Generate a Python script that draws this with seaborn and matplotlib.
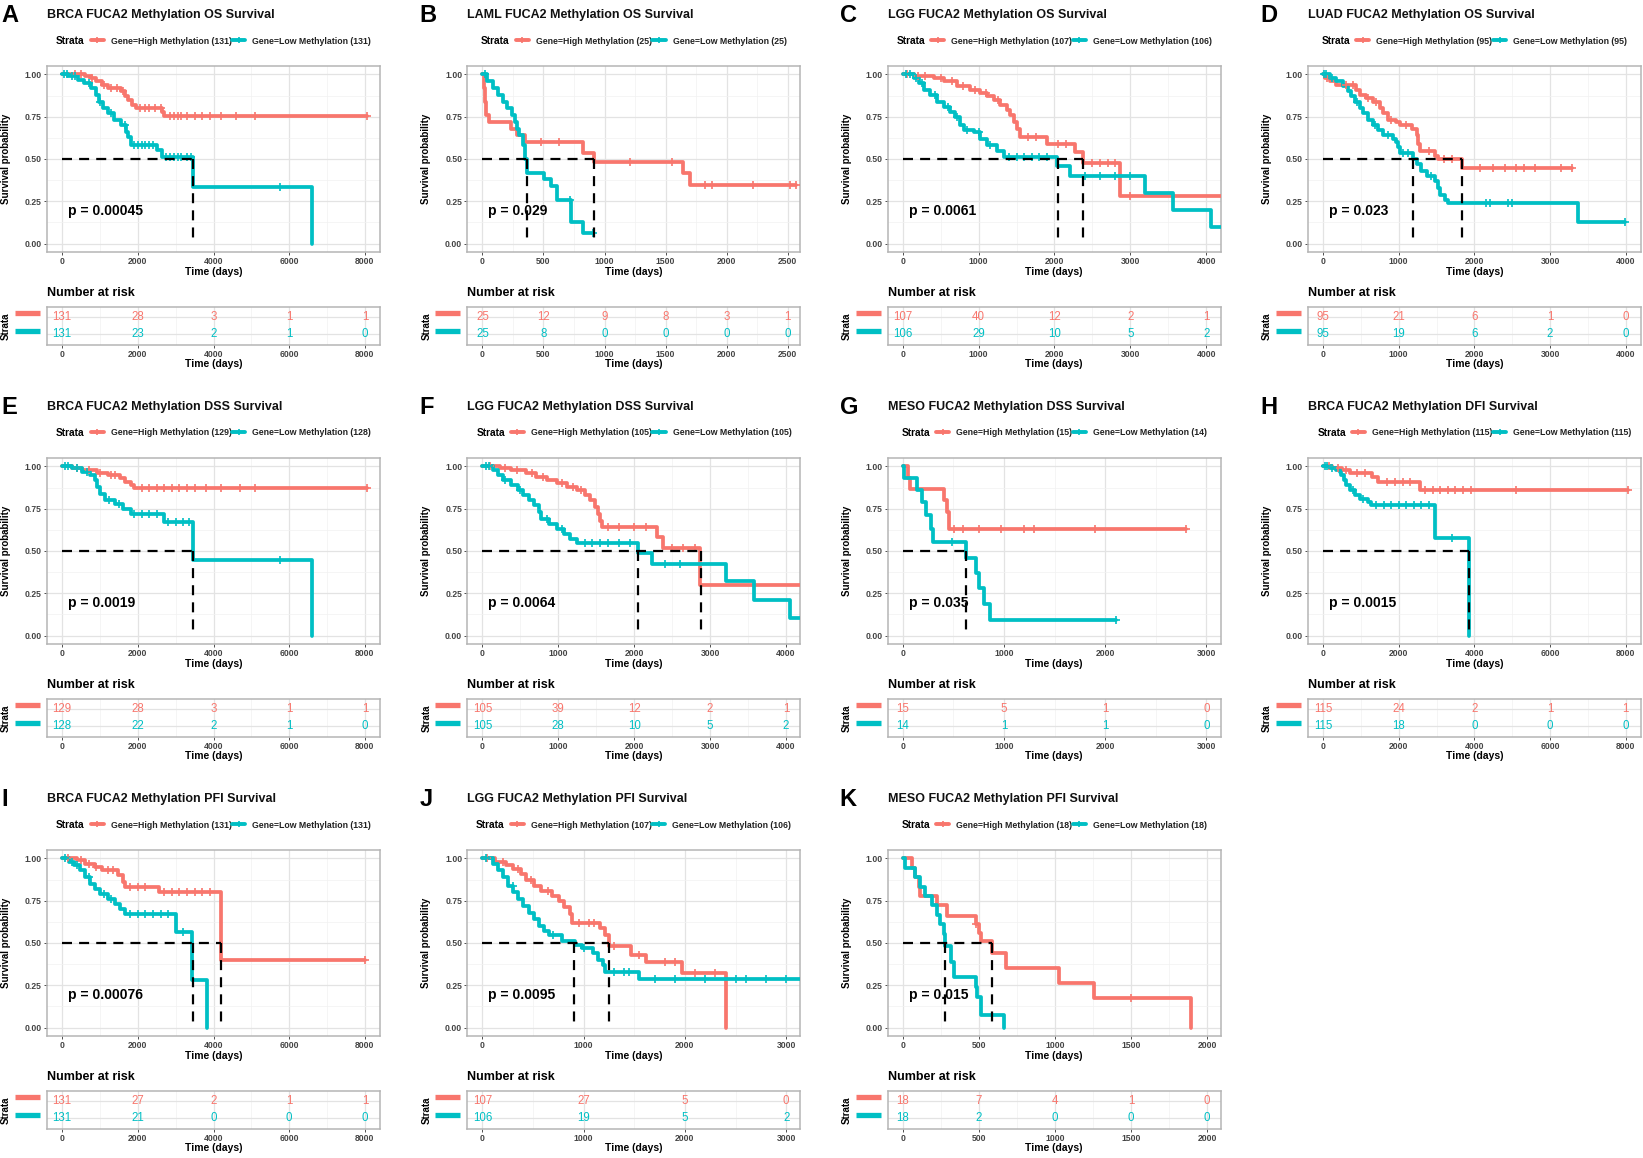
import numpy as np
import pandas as pd
import matplotlib
matplotlib.use("Agg")
import matplotlib.pyplot as plt
import matplotlib.transforms as mtransforms
from matplotlib.lines import Line2D
from matplotlib.ticker import MultipleLocator
import seaborn as sns

sns.set_theme(style="white")
plt.rcParams["font.family"] = ["Liberation Sans", "DejaVu Sans"]

RED = "#F8766D"
CYAN = "#00BFC4"

# ---------------- data ----------------
LETTERS = list("ABCDEFGHIJK")
TITLES = [
    "BRCA FUCA2 Methylation OS Survival",
    "LAML FUCA2 Methylation OS Survival",
    "LGG FUCA2 Methylation OS Survival",
    "LUAD FUCA2 Methylation OS Survival",
    "BRCA FUCA2 Methylation DSS Survival",
    "LGG FUCA2 Methylation DSS Survival",
    "MESO FUCA2 Methylation DSS Survival",
    "BRCA FUCA2 Methylation DFI Survival",
    "BRCA FUCA2 Methylation PFI Survival",
    "LGG FUCA2 Methylation PFI Survival",
    "MESO FUCA2 Methylation PFI Survival",
]
N_HIGH = [131, 25, 107, 95, 129, 105, 15, 115, 131, 107, 18]
N_LOW = [131, 25, 106, 95, 128, 105, 14, 115, 131, 106, 18]
PVALS = ["0.00045", "0.029", "0.0061", "0.023", "0.0019", "0.0064",
         "0.035", "0.0015", "0.00076", "0.0095", "0.015"]
T_RANGE = [8000, 2480, 3990, 4000, 8000, 3990, 2990, 8000, 8000, 2990, 1990]
TICK_STEP = [2000, 500, 1000, 1000, 2000, 1000, 1000, 2000, 2000, 1000, 500]
TICK_MAX = [8000, 2500, 4000, 4000, 8000, 4000, 3000, 8000, 8000, 3000, 2000]
MED_HIGH = [None, 911, 2373, 1830, None, 2885, None, None, 4196, 1254, 584]
MED_LOW = [3464, 361, 2044, 1195, 3466, 2054, 622, 3860, 3453, 900, 277]

RISK_HIGH = [
    [131, 28, 3, 1, 1], [25, 12, 9, 8, 3, 1], [107, 40, 12, 2, 1], [95, 21, 6, 1, 0],
    [129, 28, 3, 1, 1], [105, 39, 12, 2, 1], [15, 5, 1, 0], [115, 24, 2, 1, 1],
    [131, 27, 2, 1, 1], [107, 27, 5, 0], [18, 7, 4, 1, 0],
]
RISK_LOW = [
    [131, 23, 2, 1, 0], [25, 8, 0, 0, 0, 0], [106, 29, 10, 5, 2], [95, 19, 6, 2, 0],
    [128, 22, 2, 1, 0], [105, 28, 10, 5, 2], [14, 1, 1, 0], [115, 18, 0, 0, 0],
    [131, 21, 0, 0, 0], [106, 19, 5, 2], [18, 2, 0, 0, 0],
]

# Kaplan-Meier step curves (time, survival) and censor times
A_HIGH_T = [0, 600, 750, 900, 1050, 1200, 1550, 1650, 1750, 1850, 1950, 2650, 2700, 8050]
A_HIGH_S = [1.0, 0.99, 0.98, 0.96, 0.94, 0.92, 0.90, 0.87, 0.85, 0.82, 0.80, 0.78, 0.755, 0.755]
A_HIGH_C = [350, 500, 800, 1100, 1300, 1450, 1600, 2050, 2200, 2300, 2450, 2600, 2850, 2950,
            3050, 3150, 3300, 3500, 3700, 3900, 4200, 4600, 5100, 8050]
A_LOW_T = [0, 150, 410, 590, 765, 900, 985, 1070, 1200, 1380, 1560, 1690, 1730, 1820, 2520,
           2650, 3460, 6610]
A_LOW_S = [1.0, 0.99, 0.97, 0.95, 0.92, 0.88, 0.84, 0.80, 0.77, 0.73, 0.70, 0.66, 0.63, 0.585,
           0.555, 0.51, 0.335, 0.0]
A_LOW_C = [60, 120, 250, 330, 700, 1000, 1300, 1650, 1900, 2000, 2100, 2200, 2300, 2400, 2750,
           2850, 2950, 3050, 3150, 3300, 3400, 5750]

B_HIGH_T = [0, 12, 20, 28, 50, 230, 285, 350, 820, 917, 1640, 1700, 2570]
B_HIGH_S = [1.0, 0.92, 0.84, 0.76, 0.72, 0.68, 0.64, 0.60, 0.535, 0.48, 0.415, 0.345, 0.345]
B_HIGH_C = [480, 630, 1210, 1550, 1820, 1880, 2220, 2520, 2570]
B_LOW_T = [0, 40, 90, 130, 165, 200, 240, 265, 285, 300, 330, 352, 368, 505, 560, 610, 725,
           820, 905]
B_LOW_S = [1.0, 0.96, 0.92, 0.88, 0.84, 0.80, 0.76, 0.72, 0.68, 0.64, 0.58, 0.50, 0.42, 0.38,
           0.34, 0.26, 0.13, 0.065, 0.065]
B_LOW_C = [25, 720, 905]

C_HIGH_T = [0, 145, 408, 540, 715, 890, 1020, 1110, 1200, 1285, 1370, 1415, 1460, 1504, 1550,
            1900, 2270, 2373, 2864, 4300]
C_HIGH_S = [1.0, 0.99, 0.98, 0.96, 0.93, 0.91, 0.89, 0.87, 0.85, 0.82, 0.79, 0.76, 0.72, 0.68,
            0.63, 0.59, 0.54, 0.475, 0.283, 0.283]
C_HIGH_C = [60, 200, 300, 500, 650, 800, 950, 1100, 1250, 1650, 1750, 2050, 2150, 2500, 2600,
            2700, 2800, 3000]
C_LOW_T = [0, 145, 210, 276, 364, 452, 540, 627, 693, 760, 803, 935, 1022, 1110, 1240, 1330,
           2030, 2206, 3193, 3566, 4069, 4300]
C_LOW_S = [1.0, 0.98, 0.95, 0.91, 0.88, 0.84, 0.81, 0.78, 0.75, 0.70, 0.67, 0.66, 0.62, 0.58,
           0.55, 0.51, 0.46, 0.40, 0.30, 0.20, 0.10, 0.10]
C_LOW_C = [40, 100, 170, 250, 420, 600, 720, 850, 1000, 1150, 1400, 1500, 1600, 1700, 1800,
           1900, 2400, 2600, 2800, 3000]

D_HIGH_T = [0, 22, 88, 176, 441, 485, 573, 662, 750, 794, 860, 970, 1015, 1169, 1235, 1257,
            1279, 1478, 1522, 1830, 3286]
D_HIGH_S = [1.0, 0.98, 0.96, 0.94, 0.91, 0.88, 0.86, 0.84, 0.80, 0.77, 0.73, 0.72, 0.70, 0.68,
            0.64, 0.59, 0.55, 0.52, 0.50, 0.445, 0.445]
D_HIGH_C = [50, 300, 400, 600, 700, 900, 1100, 1400, 1600, 1700, 2080, 2250, 2400, 2550, 2650,
            2800, 3150, 3286]
D_LOW_T = [0, 88, 176, 265, 331, 375, 419, 485, 529, 595, 662, 728, 794, 926, 970, 992, 1015,
           1191, 1235, 1301, 1368, 1478, 1522, 1544, 1610, 1654, 3370, 3987]
D_LOW_S = [1.0, 0.98, 0.96, 0.93, 0.90, 0.87, 0.84, 0.80, 0.77, 0.73, 0.70, 0.67, 0.64, 0.62,
           0.60, 0.57, 0.535, 0.50, 0.47, 0.43, 0.40, 0.37, 0.33, 0.29, 0.26, 0.24, 0.127, 0.127]
D_LOW_C = [10, 40, 120, 450, 680, 860, 1050, 1120, 1420, 2150, 2200, 2450, 2500, 3987]

E_HIGH_T = [0, 256, 525, 930, 1200, 1537, 1672, 1807, 1900, 8050]
E_HIGH_S = [1.0, 0.99, 0.98, 0.96, 0.95, 0.93, 0.91, 0.89, 0.875, 0.875]
E_HIGH_C = [400, 700, 1000, 1300, 1400, 2100, 2300, 2500, 2700, 2900, 3100, 3300, 3500, 3800,
            4200, 4700, 5100, 8050]
E_LOW_T = [0, 256, 525, 728, 863, 930, 1000, 1133, 1403, 1605, 1807, 2684, 3466, 6594]
E_LOW_S = [1.0, 0.99, 0.97, 0.95, 0.92, 0.88, 0.84, 0.80, 0.78, 0.75, 0.72, 0.67, 0.445, 0.0]
E_LOW_C = [80, 150, 400, 650, 1250, 1500, 1900, 2100, 2300, 2500, 2800, 3000, 3200, 3350, 5750]

F_HIGH_T = [0, 236, 372, 574, 709, 845, 980, 1115, 1250, 1351, 1419, 1486, 1520, 1554, 1574,
            2297, 2378, 2872, 4300]
F_HIGH_S = [1.0, 0.99, 0.98, 0.96, 0.94, 0.92, 0.90, 0.88, 0.86, 0.83, 0.80, 0.76, 0.72, 0.68,
            0.64, 0.58, 0.52, 0.30, 0.30]
F_HIGH_C = [100, 300, 450, 650, 800, 1050, 1200, 1300, 1650, 1800, 2000, 2150, 2500, 2650, 2800]
F_LOW_T = [0, 135, 203, 270, 372, 473, 541, 608, 676, 743, 777, 878, 980, 1081, 1149, 1250,
           2047, 2230, 3209, 3581, 4054, 4300]
F_LOW_S = [1.0, 0.98, 0.95, 0.92, 0.89, 0.86, 0.83, 0.80, 0.77, 0.73, 0.69, 0.66, 0.63, 0.60,
           0.57, 0.545, 0.49, 0.425, 0.32, 0.21, 0.105, 0.105]
F_LOW_C = [50, 90, 300, 500, 850, 1050, 1350, 1450, 1550, 1650, 1800, 1950, 2400, 2600]

G_HIGH_T = [0, 50, 75, 410, 440, 455, 2797]
G_HIGH_S = [1.0, 0.933, 0.867, 0.80, 0.73, 0.63, 0.63]
G_HIGH_C = [510, 600, 750, 970, 1200, 1300, 1900, 2797]
G_LOW_T = [0, 15, 142, 192, 233, 278, 303, 622, 723, 749, 799, 860, 2104]
G_LOW_S = [1.0, 0.93, 0.86, 0.79, 0.71, 0.63, 0.555, 0.46, 0.37, 0.28, 0.185, 0.09, 0.09]
G_LOW_C = [490, 2104]

H_HIGH_T = [0, 250, 500, 700, 1300, 1450, 2555, 8062]
H_HIGH_S = [1.0, 0.99, 0.98, 0.96, 0.94, 0.91, 0.86, 0.86]
H_HIGH_C = [150, 400, 600, 900, 1100, 1700, 1900, 2100, 2300, 2700, 2900, 3100, 3300, 3500,
            3700, 3900, 5100, 8062]
H_LOW_T = [0, 176, 352, 440, 485, 546, 617, 705, 837, 969, 1189, 1278, 2952, 3870]
H_LOW_S = [1.0, 0.99, 0.98, 0.97, 0.95, 0.92, 0.89, 0.86, 0.83, 0.81, 0.79, 0.77, 0.575, 0.0]
H_LOW_C = [50, 100, 250, 800, 1050, 1400, 1600, 1800, 2000, 2200, 2400, 2600, 2800, 3400]

I_HIGH_T = [0, 391, 593, 863, 1066, 1470, 1605, 1672, 2550, 4196, 8013]
I_HIGH_S = [1.0, 0.99, 0.97, 0.95, 0.93, 0.90, 0.86, 0.83, 0.80, 0.40, 0.40]
I_HIGH_C = [150, 500, 700, 900, 1200, 1350, 1800, 2000, 2200, 2700, 2900, 3100, 3300, 3500,
            3700, 3900, 8013]
I_LOW_T = [0, 189, 324, 459, 593, 728, 863, 998, 1200, 1403, 1537, 1672, 3021, 3426, 3831]
I_LOW_S = [1.0, 0.98, 0.96, 0.93, 0.89, 0.85, 0.82, 0.79, 0.76, 0.73, 0.70, 0.67, 0.565, 0.28, 0.0]
I_LOW_C = [80, 250, 400, 700, 1100, 1300, 1800, 2000, 2200, 2400, 2600, 2800, 3200]

J_HIGH_T = [0, 126, 228, 303, 380, 430, 506, 582, 683, 759, 809, 860, 885, 1163, 1214, 1254,
            1467, 1619, 1973, 2403]
J_HIGH_S = [1.0, 0.98, 0.96, 0.94, 0.91, 0.87, 0.84, 0.81, 0.78, 0.75, 0.71, 0.67, 0.62, 0.59,
            0.55, 0.48, 0.43, 0.385, 0.32, 0.0]
J_HIGH_C = [50, 200, 350, 480, 650, 950, 1050, 1100, 1300, 1550, 1800, 1900, 2100, 2300]
J_LOW_T = [0, 101, 152, 202, 253, 303, 354, 405, 455, 506, 556, 607, 658, 784, 911, 986, 1088,
           1138, 1189, 1214, 1543, 3200]
J_LOW_S = [1.0, 0.97, 0.93, 0.89, 0.84, 0.80, 0.76, 0.72, 0.68, 0.64, 0.60, 0.57, 0.545, 0.51,
           0.49, 0.47, 0.44, 0.40, 0.37, 0.33, 0.29, 0.29]
J_LOW_C = [40, 300, 700, 1000, 1300, 1400, 1450, 1700, 1900, 2200, 2500, 2600, 2800, 3000]

K_HIGH_T = [0, 61, 83, 105, 116, 226, 292, 479, 500, 512, 589, 676, 1028, 1258, 1895]
K_HIGH_S = [1.0, 0.944, 0.889, 0.833, 0.778, 0.722, 0.66, 0.61, 0.56, 0.51, 0.44, 0.35, 0.265,
            0.175, 0.0]
K_HIGH_C = [480, 1500]
K_LOW_T = [0, 18, 83, 116, 149, 193, 226, 248, 270, 281, 320, 336, 479, 490, 512, 665]
K_LOW_S = [1.0, 0.944, 0.889, 0.833, 0.778, 0.722, 0.667, 0.611, 0.556, 0.48, 0.39, 0.30, 0.24,
           0.18, 0.075, 0.0]
K_LOW_C = []

CURVES = [
    (A_HIGH_T, A_HIGH_S, A_HIGH_C, A_LOW_T, A_LOW_S, A_LOW_C),
    (B_HIGH_T, B_HIGH_S, B_HIGH_C, B_LOW_T, B_LOW_S, B_LOW_C),
    (C_HIGH_T, C_HIGH_S, C_HIGH_C, C_LOW_T, C_LOW_S, C_LOW_C),
    (D_HIGH_T, D_HIGH_S, D_HIGH_C, D_LOW_T, D_LOW_S, D_LOW_C),
    (E_HIGH_T, E_HIGH_S, E_HIGH_C, E_LOW_T, E_LOW_S, E_LOW_C),
    (F_HIGH_T, F_HIGH_S, F_HIGH_C, F_LOW_T, F_LOW_S, F_LOW_C),
    (G_HIGH_T, G_HIGH_S, G_HIGH_C, G_LOW_T, G_LOW_S, G_LOW_C),
    (H_HIGH_T, H_HIGH_S, H_HIGH_C, H_LOW_T, H_LOW_S, H_LOW_C),
    (I_HIGH_T, I_HIGH_S, I_HIGH_C, I_LOW_T, I_LOW_S, I_LOW_C),
    (J_HIGH_T, J_HIGH_S, J_HIGH_C, J_LOW_T, J_LOW_S, J_LOW_C),
    (K_HIGH_T, K_HIGH_S, K_HIGH_C, K_LOW_T, K_LOW_S, K_LOW_C),
]

# ---------------- layout ----------------
W, H = 1643, 1158
fig = plt.figure(figsize=(W / 100, H / 100), dpi=100)
fig.patch.set_facecolor("white")


def fx(x):
    return x / W


def fy(y):
    return 1 - y / H


BOX_W = 333
COL_STEP = 420.3
ROW_STEP = 392
KM_TOP, KM_BOT = 66, 252
RK_TOP, RK_BOT = 307, 345

TICK_COLOR = "#333333"
LABEL_COLOR = "#444444"
BORDER = "#B5B5B5"


def style_axes(ax, step):
    ax.set_facecolor("white")
    for sp in ax.spines.values():
        sp.set_visible(True)
        sp.set_edgecolor(BORDER)
        sp.set_linewidth(1.1)
    ax.xaxis.set_minor_locator(MultipleLocator(step / 2))
    ax.grid(True, which="major", color="#E3E3E3", linewidth=0.9)
    ax.grid(True, which="minor", color="#F2F2F2", linewidth=0.5)
    ax.set_axisbelow(True)
    ax.tick_params(which="major", length=2.3, width=0.6, color=TICK_COLOR,
                   labelsize=6.2, labelcolor=LABEL_COLOR, pad=1.4,
                   bottom=True, left=True, top=False, right=False)
    ax.tick_params(which="minor", length=0)
    for lab in ax.get_xticklabels() + ax.get_yticklabels():
        lab.set_fontweight("bold")


def step_value(T, S, t):
    idx = np.searchsorted(np.asarray(T), t, side="right") - 1
    return np.asarray(S)[idx]


legends = []
for i in range(11):
    r, c = divmod(i, 4)
    box_l = 47 + c * COL_STEP
    box_r = box_l + BOX_W
    yo = r * ROW_STEP
    T = T_RANGE[i]
    xlim = (-0.05 * T, 1.05 * T)
    ticks = np.arange(0, TICK_MAX[i] + 1, TICK_STEP[i])

    # ---- panel letter and title ----
    fig.text(fx(max(1, box_l - 48)), fy(15 + yo), LETTERS[i], fontsize=17,
             fontweight="bold", ha="left", va="center", color="black")
    fig.text(fx(box_l), fy(15 + yo), TITLES[i], fontsize=9, fontweight="bold",
             ha="left", va="center", color="#111111")

    # ---- KM plot ----
    ax = fig.add_axes([fx(box_l), fy(KM_BOT + yo), BOX_W / W, (KM_BOT - KM_TOP) / H])
    hT, hS, hC, lT, lS, lC = CURVES[i]
    for Tt, Ss, Cc, col in ((hT, hS, hC, RED), (lT, lS, lC, CYAN)):
        df = pd.DataFrame({"time": Tt, "surv": Ss})
        sns.lineplot(data=df, x="time", y="surv", ax=ax, color=col, linewidth=2.7,
                     drawstyle="steps-post", estimator=None, sort=True, legend=False,
                     zorder=3)
        if len(Cc):
            cdf = pd.DataFrame({"time": Cc, "surv": step_value(Tt, Ss, Cc)})
            sns.scatterplot(data=cdf, x="time", y="surv", ax=ax, marker="+", s=30,
                            color=col, linewidth=1.2, legend=False, zorder=4)
    meds = [m for m in (MED_HIGH[i], MED_LOW[i]) if m is not None]
    dash = (0, (4.5, 3.2))
    ax.plot([0, max(meds)], [0.5, 0.5], color="black", lw=1.6, ls=dash, zorder=5)
    for m in meds:
        ax.plot([m, m], [0.5, 0], color="black", lw=1.6, ls=dash, zorder=5)
    ax.text(0.063, 0.22, "p = " + PVALS[i], transform=ax.transAxes, fontsize=10,
            fontweight="bold", ha="left", va="center", color="black", zorder=6)
    ax.set_xlim(*xlim)
    ax.set_ylim(-0.05, 1.05)
    ax.set_xticks(ticks)
    ax.set_xticklabels([str(int(t)) for t in ticks])
    ax.set_yticks([0, 0.25, 0.5, 0.75, 1.0])
    ax.set_yticklabels(["0.00", "0.25", "0.50", "0.75", "1.00"])
    style_axes(ax, TICK_STEP[i])
    ax.yaxis.set_minor_locator(MultipleLocator(0.125))
    ax.set_xlabel("Time (days)", fontsize=7.5, fontweight="bold", color="black")
    ax.xaxis.set_label_coords(0.5, -(267 - KM_BOT) / (KM_BOT - KM_TOP))
    ax.set_ylabel("Survival probability", fontsize=7, fontweight="bold", color="black")
    ax.yaxis.set_label_coords((c * COL_STEP + 11 - box_l) / BOX_W, 0.5)

    # ---- legend ----
    cx = (box_l + box_r) / 2
    ly = fy(41 + yo)
    st = fig.text(0, ly, "Strata", fontsize=7.3, fontweight="bold", ha="left",
                  va="center", color="black")
    handles = [Line2D([], [], color=RED, lw=2.8, marker="+", markersize=5, mew=1.2),
               Line2D([], [], color=CYAN, lw=2.8, marker="+", markersize=5, mew=1.2)]
    labels = [f"Gene=High Methylation ({N_HIGH[i]})", f"Gene=Low Methylation ({N_LOW[i]})"]
    leg = fig.legend(handles, labels, loc="center", bbox_to_anchor=(fx(cx), ly),
                     bbox_transform=fig.transFigure, ncol=2, frameon=False,
                     prop={"size": 6.3, "weight": "bold"}, handlelength=1.5,
                     handletextpad=0.8, columnspacing=0.05, borderpad=0,
                     borderaxespad=0)
    for t in leg.get_texts():
        t.set_color("#222222")
    legends.append((leg, st, cx, ly))

    # ---- risk table ----
    fig.text(fx(box_l), fy(293 + yo), "Number at risk", fontsize=9, fontweight="bold",
             ha="left", va="center", color="black")
    rk = fig.add_axes([fx(box_l), fy(RK_BOT + yo), BOX_W / W, (RK_BOT - RK_TOP) / H])
    rk.set_xlim(*xlim)
    rk.set_ylim(-0.65, 1.59)
    rk.set_xticks(ticks)
    rk.set_xticklabels([str(int(t)) for t in ticks])
    rk.set_yticks([0, 1])
    rk.set_yticklabels(["", ""])
    style_axes(rk, TICK_STEP[i])
    rk.tick_params(axis="y", length=0)
    rk.tick_params(axis="x", pad=1.0)
    for t, n in zip(ticks, RISK_HIGH[i]):
        rk.text(t, 1, str(n), color=RED, fontsize=8.3, ha="center", va="center")
    for t, n in zip(ticks, RISK_LOW[i]):
        rk.text(t, 0, str(n), color=CYAN, fontsize=8.3, ha="center", va="center")
    bt = mtransforms.blended_transform_factory(rk.transAxes, rk.transData)
    x0 = (c * COL_STEP + 15 - box_l) / BOX_W
    x1 = (c * COL_STEP + 40 - box_l) / BOX_W
    rk.plot([x0, x1], [1.25, 1.25], transform=bt, color=RED, lw=3.8,
            solid_capstyle="butt", clip_on=False)
    rk.plot([x0, x1], [0.15, 0.15], transform=bt, color=CYAN, lw=3.8,
            solid_capstyle="butt", clip_on=False)
    rk.set_xlabel("Time (days)", fontsize=7.5, fontweight="bold", color="black")
    rk.xaxis.set_label_coords(0.5, -(359 - RK_BOT) / (RK_BOT - RK_TOP))
    rk.set_ylabel("Strata", fontsize=7, fontweight="bold", color="black")
    rk.yaxis.set_label_coords((c * COL_STEP + 11 - box_l) / BOX_W, 0.5)

# position "Strata" + legend as one centred group
fig.canvas.draw()
renderer = fig.canvas.get_renderer()
for leg, st, cx, ly in legends:
    wl = leg.get_window_extent(renderer).width
    ws = st.get_window_extent(renderer).width
    gap = 6
    total = ws + gap + wl
    left = cx - total / 2
    st.set_x(fx(left))
    leg.set_bbox_to_anchor((fx(left + ws + gap + wl / 2), ly), transform=fig.transFigure)

fig.savefig("out.png", dpi=100, facecolor="white")
